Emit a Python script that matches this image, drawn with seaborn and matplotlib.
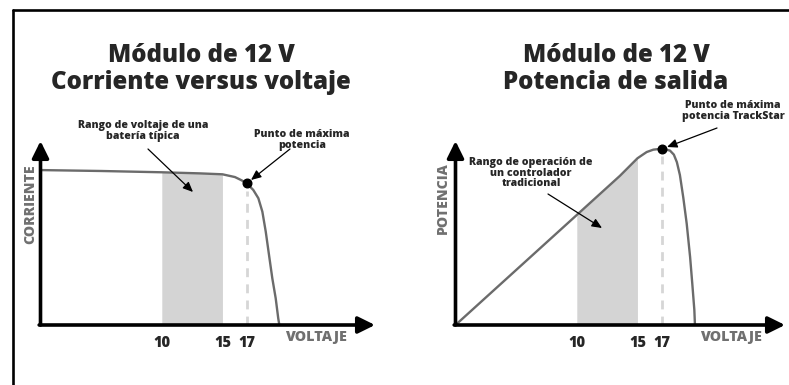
import matplotlib
matplotlib.use("Agg")
import matplotlib.pyplot as plt
from matplotlib.lines import Line2D
import seaborn as sns

# canvas in pixels
W, H = 789, 385

# ---- data (voltage in V, curves in relative units 0-100) ----
v_iv = [0, 5, 10, 13.15, 15, 16.03, 16.59, 17, 17.54, 17.96, 18.29, 18.57, 18.84,
        19.11, 19.39, 19.6, 19.69]
i_iv = [84.2, 83.7, 83.0, 82.4, 81.9, 80.4, 78.6, 77.0, 73.4, 68.9, 61.6, 50.7, 38.0,
        25.4, 14.5, 3.6, 0]

v_pw = [0, 10, 13.56, 15, 15.4, 15.76, 16.31, 17, 17.68, 18.0, 18.25, 18.5, 18.78,
        19.06, 19.34, 19.52, 19.69, 19.74]
p_pw = [0, 59.8, 81.1, 90.6, 92.4, 94.0, 95.3, 95.8, 94.8, 92.6, 88.5, 81.5, 69.2,
        55.1, 37.0, 22.5, 8.2, 0]

band = (10, 15)          # battery / traditional controller range
v_mpp = 17               # maximum power point
tick_pos = [5, 10, 15, 17, 19.7]
tick_lab = ["", "10", "15", "17", ""]

titles = [("Módulo de 12 V", "Corriente versus voltaje"),
          ("Módulo de 12 V", "Potencia de salida")]
ylabels = ["CORRIENTE", "POTENCIA"]
xlabel = "VOLTAJE"

CURVE = "#6b6b6b"
FILL = "#d4d4d4"
LABEL_GREY = "#707070"
DASH = "#d6d6d6"

sns.set_theme(style="white")
plt.rcParams["font.family"] = ["Open Sans", "DejaVu Sans"]


def fx(px):
    return px / W


def fy(py):
    return 1 - py / H


fig = plt.figure(figsize=(W / 100, H / 100), dpi=100)
fig.patch.set_facecolor("white")

# outer frame (left and top only)
fig.add_artist(Line2D([fx(13), fx(13)], [fy(10), 0], color="black", lw=1.9))
fig.add_artist(Line2D([fx(13), 1], [fy(10), fy(10)], color="black", lw=1.9))

SCALE = 12.13   # pixels per volt
panels = [
    dict(x0=40.5, x1=375, v=v_iv, y=i_iv),
    dict(x0=455.5, x1=785, v=v_pw, y=p_pw),
]
top, bottom = 141, 325

axes = []
for k, p in enumerate(panels):
    ax = fig.add_axes([fx(p["x0"]), fy(bottom), (p["x1"] - p["x0"]) / W, (bottom - top) / H])
    ax.set_facecolor("none")
    ax.set_xlim(0, (p["x1"] - p["x0"]) / SCALE)
    ax.set_ylim(0, 100)
    for s in ax.spines.values():
        s.set_visible(False)

    v, y = p["v"], p["y"]
    vb = [a for a in v if band[0] <= a <= band[1]]
    yb = [b for a, b in zip(v, y) if band[0] <= a <= band[1]]
    ax.fill_between(vb, 0, yb, color=FILL, lw=0, zorder=1)

    y_mpp = y[v.index(v_mpp)]
    ax.plot([v_mpp, v_mpp], [0, y_mpp - 4], color=DASH, lw=2, dashes=(3.2, 2.6), zorder=2)

    sns.lineplot(x=v, y=y, ax=ax, color=CURVE, lw=1.7, zorder=3)
    ax.plot([v_mpp], [y_mpp], "o", color="black", ms=6.2, zorder=5)

    # axis arrows
    arr = dict(arrowstyle="-|>,head_length=0.85,head_width=0.42", lw=2.6, color="black",
               shrinkA=0, shrinkB=0)
    ax.annotate("", xy=(1, 0), xytext=(-0.004, 0), xycoords="axes fraction",
                arrowprops=arr, annotation_clip=False, zorder=4)
    ax.annotate("", xy=(0, 1), xytext=(0, 0), xycoords="axes fraction",
                arrowprops=arr, annotation_clip=False, zorder=4)

    ax.set_xticks(tick_pos, labels=tick_lab)
    ax.set_yticks([])
    ax.tick_params(axis="x", direction="inout", length=7.5, width=1.0, color="black",
                   pad=3.5, labelsize=10.5)
    for t in ax.get_xticklabels():
        t.set_fontweight(800)
    ax.set_xlabel("")
    ax.set_ylabel("")
    axes.append(ax)

# titles
for cx, (l1, l2) in zip([201, 616], titles):
    fig.text(fx(cx), fy(62), l1, ha="center", va="baseline", fontsize=17.3, fontweight=800)
    fig.text(fx(cx), fy(89), l2, ha="center", va="baseline", fontsize=17.3, fontweight=800)

# axis names
fig.text(fx(316), fy(337), xlabel, ha="center", va="center", fontsize=10.3,
         fontweight=800, color=LABEL_GREY)
fig.text(fx(731), fy(337), xlabel, ha="center", va="center", fontsize=10.3,
         fontweight=800, color=LABEL_GREY)
fig.text(fx(30), fy(204), ylabels[0], ha="center", va="center", rotation=90,
         fontsize=10.1, fontweight=800, color=LABEL_GREY)
fig.text(fx(443), fy(198), ylabels[1], ha="center", va="center", rotation=90,
         fontsize=10.1, fontweight=800, color=LABEL_GREY)

# callouts
note_kw = dict(ha="center", va="center", fontsize=7.6, fontweight=800, linespacing=0.92)
fig.text(fx(143), fy(131), "Rango de voltaje de una\nbatería típica", **note_kw)
fig.text(fx(302), fy(140), "Punto de máxima\npotencia", **note_kw)
fig.text(fx(531), fy(173), "Rango de operación de\nun controlador\ntradicional", **note_kw)
fig.text(fx(733), fy(111), "Punto de máxima\npotencia TrackStar", **note_kw)

thin = dict(arrowstyle="-|>,head_length=0.5,head_width=0.22", lw=0.9, color="black",
            shrinkA=0, shrinkB=0)


def callout(ax, start_px, end_px):
    ax.annotate("", xy=(fx(end_px[0]), fy(end_px[1])), xycoords="figure fraction",
                xytext=(fx(start_px[0]), fy(start_px[1])), textcoords="figure fraction",
                arrowprops=thin, annotation_clip=False)


callout(axes[0], (148, 149), (193, 192))
callout(axes[0], (290, 149), (251, 180))
callout(axes[1], (548, 194), (602, 228))
callout(axes[1], (717, 128), (667, 147))

fig.savefig("out.png", dpi=100)
